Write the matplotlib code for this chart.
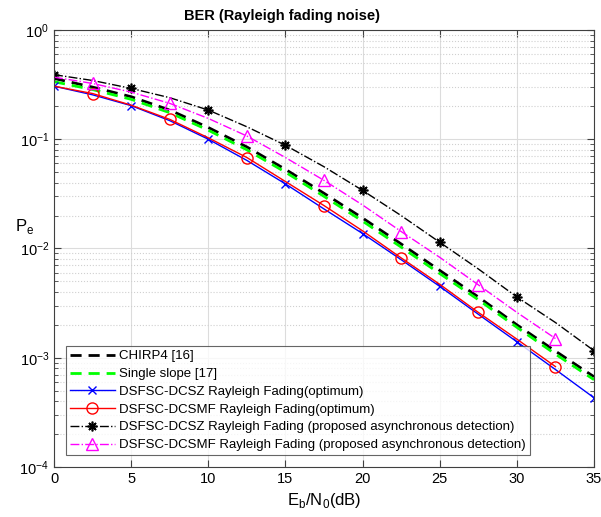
import numpy as np
import matplotlib.pyplot as plt
from matplotlib.ticker import LogLocator, NullFormatter

plt.rcParams['font.family'] = ['Liberation Sans', 'DejaVu Sans']

# Eb/N0 grid (dB)
snr = [0, 2.5, 5, 7.5, 10, 12.5, 15, 17.5, 20, 22.5, 25, 27.5, 30, 32.5, 35]
snr_short = snr[:-1]

chirp4 = [0.36, 0.30, 0.245, 0.185, 0.128, 0.085, 0.053, 0.032, 0.019,
          0.011, 0.0063, 0.0036, 0.0020, 0.00115, 0.00067]
single_slope = [0.336, 0.285, 0.232, 0.175, 0.121, 0.080, 0.050, 0.030, 0.0178,
                0.0103, 0.0059, 0.0034, 0.0019, 0.00108, 0.00063]
dcsz_opt = [0.306, 0.255, 0.203, 0.148, 0.100, 0.064, 0.039, 0.023, 0.0137,
            0.0079, 0.0045, 0.0025, 0.0014, 0.00078, 0.00043]
dcsmf_opt = [0.306, 0.262, 0.205, 0.152, 0.103, 0.068, 0.041, 0.0247, 0.0145,
             0.0082, 0.0047, 0.0026, 0.00148, 0.00083]
dcsz_async = [0.39, 0.345, 0.292, 0.24, 0.185, 0.13, 0.088, 0.056, 0.034,
              0.020, 0.0114, 0.0065, 0.0036, 0.0021, 0.00116]
dcsmf_async = [0.37, 0.324, 0.27, 0.213, 0.155, 0.107, 0.068, 0.042, 0.025,
               0.0143, 0.0083, 0.00465, 0.0026, 0.0015]

labels = ['CHIRP4 [16]', 'Single slope [17]',
          'DSFSC-DCSZ Rayleigh Fading(optimum)',
          'DSFSC-DCSMF Rayleigh Fading(optimum)',
          'DSFSC-DCSZ Rayleigh Fading (proposed asynchronous detection)',
          'DSFSC-DCSMF Rayleigh Fading (proposed asynchronous detection)']

fig = plt.figure(figsize=(6.01, 5.17), dpi=100)
ax = fig.add_axes([0.0899, 0.0967, 0.8985, 0.8453])

ax.semilogy(snr, chirp4, 'k--', lw=2, dashes=(4, 2.5), label=labels[0])
ax.semilogy(snr, single_slope, '--', color='#00ff00', lw=2, dashes=(4, 2.5),
            label=labels[1])
ax.semilogy(snr, dcsz_opt, '-x', color='#0000ff', lw=1, ms=6, mew=1,
            markevery=slice(0, None, 2), label=labels[2])
ax.semilogy(snr_short, dcsmf_opt, '-o', color='#ff0000', lw=1, ms=8, mew=1,
            mfc='none', markevery=slice(1, None, 2), label=labels[3])
ax.semilogy(snr, dcsz_async, '-.', marker=(8, 2, 0), color='k', lw=1, ms=7,
            mew=1.2, markevery=slice(0, None, 2), label=labels[4])
ax.semilogy(snr_short, dcsmf_async, '-.^', color='#ff00ff', lw=1, ms=9, mew=1,
            mfc='none', markevery=slice(1, None, 2), label=labels[5])

ax.set_xlim(0, 35)
ax.set_ylim(1e-4, 1)
ax.set_xticks(np.arange(0, 36, 5))
ax.yaxis.set_major_locator(LogLocator(base=10, numticks=10))
ax.yaxis.set_minor_locator(LogLocator(base=10, subs=np.arange(2, 10), numticks=10))
ax.yaxis.set_minor_formatter(NullFormatter())

ax.grid(True, which='major', color='#dcdcdc', lw=0.8)
ax.grid(True, which='minor', axis='y', color='#d0d0d0', ls=':', lw=0.8)
ax.tick_params(which='both', direction='in', top=True, right=True,
               labelsize=10.5, color='#404040')
ax.tick_params(which='major', length=5)
ax.tick_params(which='minor', length=3)
for s in ax.spines.values():
    s.set_color('#404040')
    s.set_linewidth(0.8)

ax.set_title('BER (Rayleigh fading noise)', fontsize=10.5, fontweight='bold',
             x=0.422, pad=7)
ax.set_xlabel('E$_\\mathregular{b}$/N$_\\mathregular{0}$(dB)', fontsize=12)
ax.set_ylabel('P$_\\mathregular{e}$', fontsize=12, rotation=0, va='center')
ax.yaxis.set_label_coords(-0.055, 0.55)

leg = ax.legend(loc='lower left', bbox_to_anchor=(0.022, 0.027), fontsize=9.5,
                frameon=True, fancybox=False, edgecolor='#404040',
                handlelength=3.4, handletextpad=0.35, labelspacing=0.42,
                borderpad=0.3, borderaxespad=0)
leg.get_frame().set_linewidth(0.8)

fig.savefig('out.png', dpi=100)
